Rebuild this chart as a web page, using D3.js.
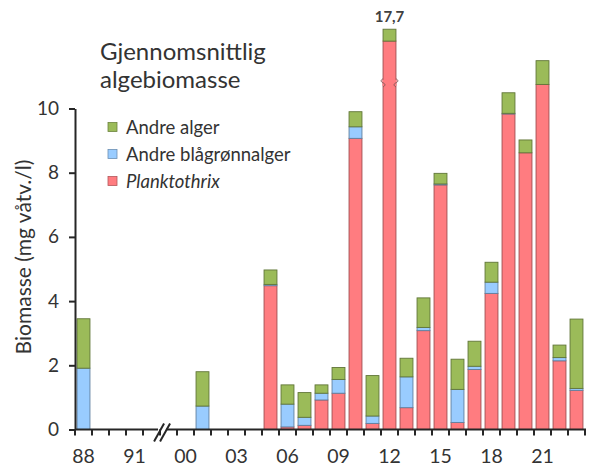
<!DOCTYPE html>
<html><head><meta charset="utf-8">
<script src="https://cdn.jsdelivr.net/npm/d3@7"></script>
<style>html,body{margin:0;padding:0;background:#fff}svg{display:block}text{font-family:Lato,"Open Sans",sans-serif}</style>
</head><body>
<svg id="c" width="590" height="476"></svg>
<script>
// Category keys (two blank slots make room for the axis break between 1991 and 2000)
const categories = ["88","89","90","91","b1","b2","00","01","02","03","04","05","06","07","08","09","10","11","12","13","14","15","16","17","18","19","20","21","22","23"];
const tickLabels = ["88","91","00","03","06","09","12","15","18","21"];
// Biomass (mg våtv./l) per series
const planktothrix = [0,0,0,0,0,0,0,0,0,0,0,4.48,0.08,0.13,0.92,1.13,9.07,0.19,17.33,0.68,3.08,7.62,0.22,1.87,4.24,9.83,8.62,10.75,2.14,1.22];
const andreBlagronn = [1.91,0,0,0,0,0,0,0.73,0,0,0,0.04,0.71,0.25,0.21,0.43,0.36,0.23,0,0.96,0.10,0.03,1.03,0.10,0.35,0.02,0,0,0.10,0.06];
const andreAlger    = [1.54,0,0,0,0,0,0,1.07,0,0,0,0.45,0.60,0.77,0.26,0.37,0.47,1.26,0.37,0.58,0.92,0.33,0.94,0.78,0.62,0.64,0.40,0.74,0.39,2.16];
const seriesNames = ["Planktothrix","Andre blågrønnalger","Andre alger"];
const seriesColors = ["#ff7c80","#99ccff","#9bbb59"];
const brokenCategory = "12";     // bar drawn with a cut
const brokenLabel = "17,7";
const brokenCutAmount = 5.23;    // amount removed from the cut Planktothrix bar
const breakAtValue = 10.8;       // where the cut symbol is drawn
const yTicks = [0,2,4,6,8,10];

const svg = d3.select("#c");
const x = d3.scaleBand().domain(categories).range([75,585]).paddingInner(0.24).paddingOuter(0.12);
const y = d3.scaleLinear().domain([0,10]).range([429.5,108.5]);
const ink = "#262626";

// stacked data
const rows = categories.map((c,i)=>({cat:c, p: planktothrix[i] - (c===brokenCategory?brokenCutAmount:0), b: andreBlagronn[i], a: andreAlger[i]}));
const stack = d3.stack().keys(["p","b","a"])(rows);

const g = svg.append("g");
stack.forEach((layer,si)=>{
  g.selectAll(null).data(layer.filter(d=>d[1]-d[0]>0)).enter().append("rect")
    .attr("x",d=>x(d.data.cat))
    .attr("width",x.bandwidth())
    .attr("y",d=>y(d[1]))
    .attr("height",d=>y(d[0])-y(d[1]))
    .attr("fill",seriesColors[si])
    .attr("stroke",d3.color(seriesColors[si]).darker(1.3))
    .attr("stroke-width",0.9);
});

// cut symbol on the broken bar
{
  const bx = x(brokenCategory), bw = x.bandwidth(), by = y(breakAtValue);
  const cut = g.append("g");
  cut.append("rect").attr("x",bx-0.5).attr("y",by-3).attr("width",bw+1).attr("height",6).attr("fill","#ff7c80");
  [[bx,-1],[bx+bw,1]].forEach(([ex,s])=>{
    cut.append("path")
      .attr("d",`M${ex},${by-4} C${ex+s*2.5},${by-3} ${ex+s*2.5},${by-1} ${ex},${by} C${ex-s*2.5},${by+1} ${ex-s*2.5},${by+3} ${ex},${by+4}`)
      .attr("fill","none").attr("stroke","#8a5a5a").attr("stroke-width",1);
  });
  const top = rows.find(r=>r.cat===brokenCategory);
  svg.append("text").attr("x",bx+bw/2).attr("y",y(top.p+top.b+top.a)-7)
    .attr("text-anchor","middle").attr("font-size",15).attr("font-weight",700).attr("fill","#404040").text(brokenLabel);
}

// y axis
const ya = svg.append("g").attr("transform","translate(75,0)")
  .call(d3.axisLeft(y).tickValues(yTicks).tickSize(6).tickSizeOuter(0).tickPadding(10).tickFormat(d3.format("d")));
ya.select(".domain").attr("stroke",ink).attr("stroke-width",2);
ya.selectAll(".tick line").attr("stroke",ink).attr("stroke-width",2);
ya.selectAll(".tick text").attr("font-size",19).attr("fill","#333").attr("font-family","Lato,'Open Sans',sans-serif");

// x axis with break
const x0 = x.range()[0], x1 = x.range()[1], step = x.step();
const breakX = x("b2");
const xa = svg.append("g");
xa.append("line").attr("x1",x0).attr("x2",breakX-4).attr("y1",y(0)).attr("y2",y(0)).attr("stroke",ink).attr("stroke-width",2);
xa.append("line").attr("x1",breakX+4).attr("x2",x1+1).attr("y1",y(0)).attr("y2",y(0)).attr("stroke",ink).attr("stroke-width",2);
const tickPos = d3.range(categories.length+1).map(i=>x0+i*step).filter(p=>Math.abs(p-breakX)>1);
xa.selectAll(null).data(tickPos).enter().append("line")
  .attr("x1",d=>d).attr("x2",d=>d).attr("y1",y(0)).attr("y2",y(0)+6).attr("stroke",ink).attr("stroke-width",2);
[-3,3].forEach(o=>{
  xa.append("line").attr("x1",breakX+o-5).attr("y1",y(0)+12).attr("x2",breakX+o+5).attr("y2",y(0)-6)
    .attr("stroke",ink).attr("stroke-width",2);
});
xa.selectAll(null).data(tickLabels).enter().append("text")
  .attr("x",d=>x(d)+x.bandwidth()/2).attr("y",y(0)+33)
  .attr("text-anchor","middle").attr("font-size",19.5).attr("fill","#333").text(d=>d);

// y axis title
svg.append("text").attr("transform","translate(31,257) rotate(-90)").attr("text-anchor","middle")
  .attr("font-size",21).attr("fill","#333").text("Biomasse (mg våtv./l)");

// title (two separate lines)
svg.append("text").attr("x",100).attr("y",60).attr("font-size",24).attr("fill","#333").text("Gjennomsnittlig");
svg.append("text").attr("x",100).attr("y",88).attr("font-size",24).attr("fill","#333").text("algebiomasse");

// legend (top to bottom: Andre alger, Andre blågrønnalger, Planktothrix)
const legendOrder = [2,1,0];
const lg = svg.append("g");
legendOrder.forEach((si,i)=>{
  const cy = 127 + i*27;
  lg.append("rect").attr("x",108).attr("y",cy-4.5).attr("width",9).attr("height",9)
    .attr("fill",seriesColors[si]).attr("stroke",d3.color(seriesColors[si]).darker(1)).attr("stroke-width",0.8);
  lg.append("text").attr("x",126).attr("y",cy+6.5).attr("font-size",18.5).attr("fill","#333")
    .attr("font-style",si===0?"italic":"normal").text(seriesNames[si]);
});
</script>
</body></html>
